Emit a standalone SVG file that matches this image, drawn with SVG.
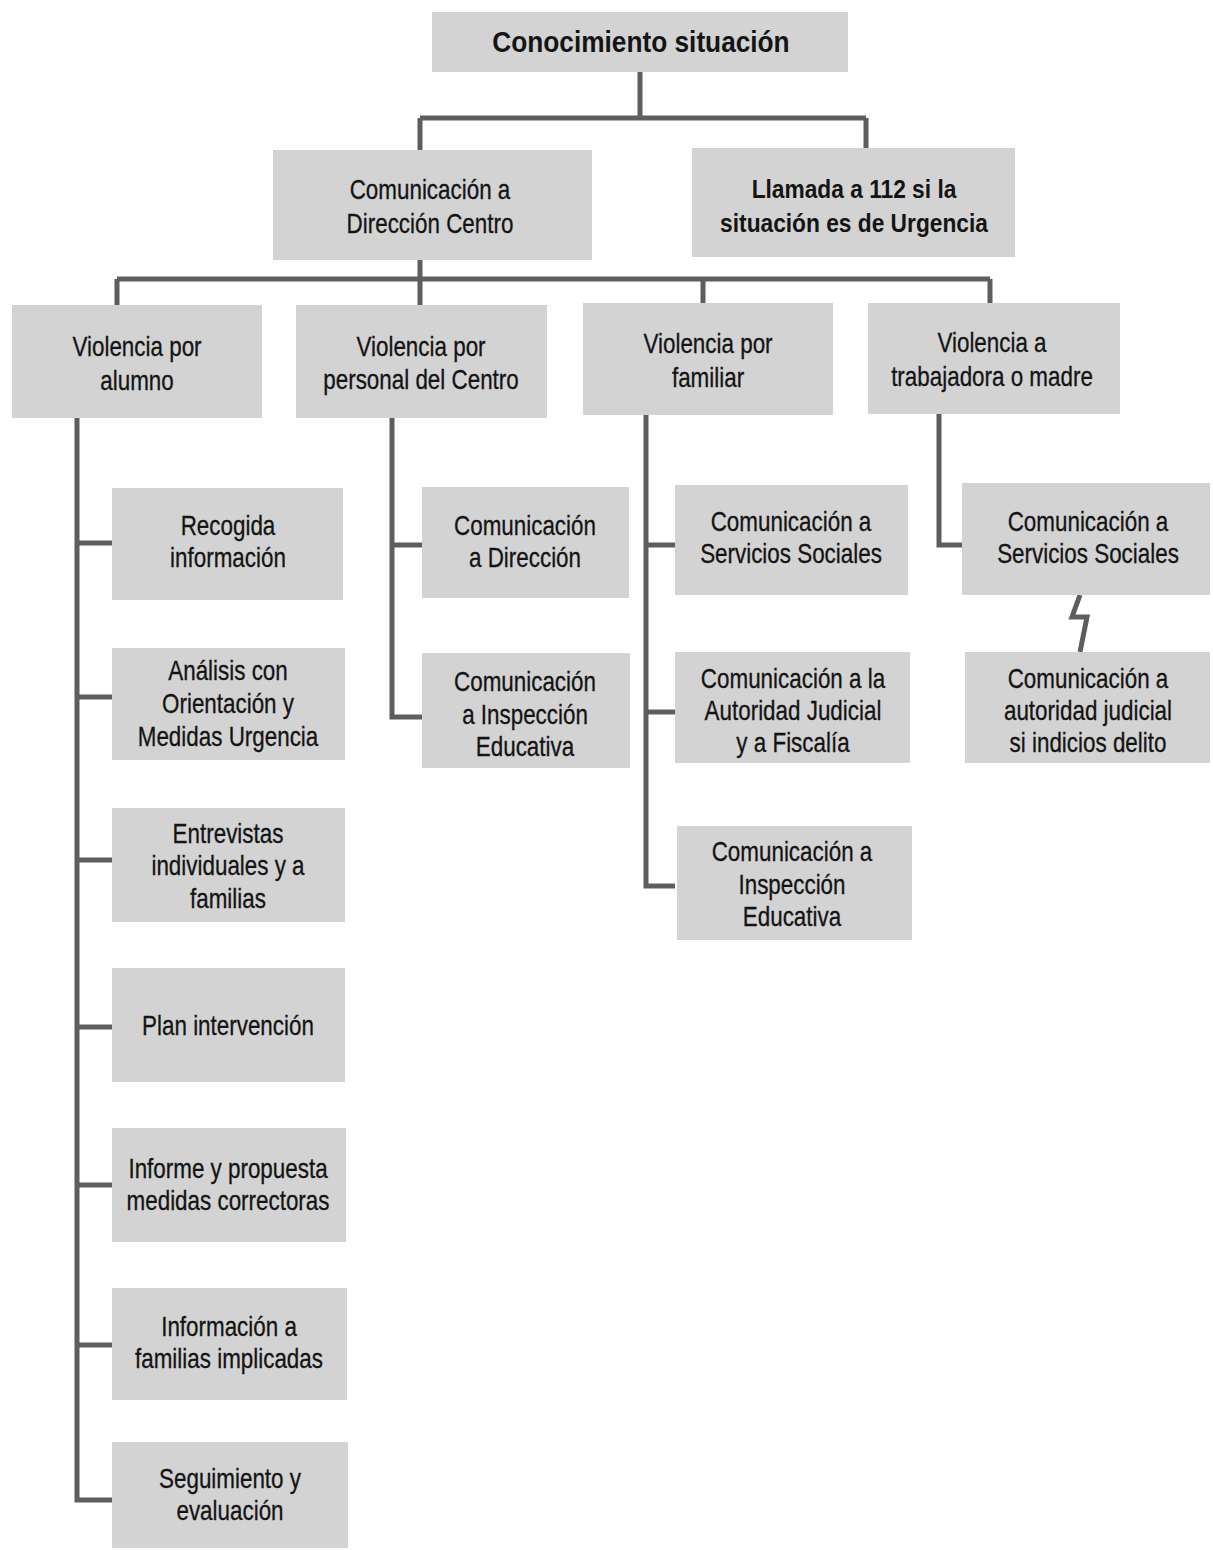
<svg xmlns="http://www.w3.org/2000/svg" width="1213" height="1550" viewBox="0 0 1213 1550">
<style>
.box{fill:#d3d3d3}
.c{stroke:#5e5e5e;stroke-width:5;fill:none;stroke-linejoin:miter}
.t{font-family:"Liberation Sans",Arial,sans-serif;font-size:27px;fill:#141414;text-anchor:middle;stroke:#141414;stroke-width:0.3px}
.b{font-weight:bold;font-size:26px;stroke-width:0}
.tt{font-weight:bold;font-size:29px;stroke-width:0}
</style>
<rect width="1213" height="1550" fill="#ffffff"/>
<g id="connectors">
<path class="c" d="M640,72 V118 M420,118 H866 M420,118 V150 M866,118 V148"/>
<path class="c" d="M420,260 V305 M117,279 H990 M117,279 V305 M703,279 V303 M990,279 V303"/>
<path class="c" d="M77,418 V1500 H112 M77,543 H112 M77,697 H112 M77,860 H112 M77,1027 H112 M77,1185 H112 M77,1345 H112"/>
<path class="c" d="M392,418 V717 H422 M392,545 H422"/>
<path class="c" d="M646,415 V886 H675 M646,545 H675 M646,712 H675"/>
<path class="c" d="M939,414 V545 H962"/>
<polyline class="c" stroke-width="4" points="1080,595 1072,617 1087,617 1080,652"/>
</g>
<g id="n-conocimiento"><rect class="box" x="432" y="12" width="416" height="60"/><text class="t tt" transform="translate(641,0) scale(0.905,1)"><tspan x="0" y="52">Conocimiento situación</tspan></text></g>
<g id="n-comunicacion-direccion-centro"><rect class="box" x="273" y="150" width="319" height="110"/><text class="t" transform="translate(430,0) scale(0.83,1)"><tspan x="0" y="199">Comunicación a</tspan><tspan x="0" y="233">Dirección Centro</tspan></text></g>
<g id="n-llamada-112"><rect class="box" x="692" y="148" width="323" height="109"/><text class="t b" transform="translate(854,0) scale(0.875,1)"><tspan x="0" y="198">Llamada a 112 si la</tspan><tspan x="0" y="232">situación es de Urgencia</tspan></text></g>
<g id="n-violencia-alumno"><rect class="box" x="12" y="305" width="250" height="113"/><text class="t" transform="translate(137,0) scale(0.83,1)"><tspan x="0" y="356">Violencia por</tspan><tspan x="0" y="390">alumno</tspan></text></g>
<g id="n-violencia-personal"><rect class="box" x="296" y="305" width="251" height="113"/><text class="t" transform="translate(421,0) scale(0.83,1)"><tspan x="0" y="356">Violencia por</tspan><tspan x="0" y="389">personal del Centro</tspan></text></g>
<g id="n-violencia-familiar"><rect class="box" x="583" y="303" width="250" height="112"/><text class="t" transform="translate(708,0) scale(0.83,1)"><tspan x="0" y="353">Violencia por</tspan><tspan x="0" y="387">familiar</tspan></text></g>
<g id="n-violencia-trabajadora"><rect class="box" x="868" y="303" width="252" height="111"/><text class="t" transform="translate(992,0) scale(0.83,1)"><tspan x="0" y="352">Violencia a</tspan><tspan x="0" y="386">trabajadora o madre</tspan></text></g>
<g id="n-recogida"><rect class="box" x="112" y="488" width="231" height="112"/><text class="t" transform="translate(228,0) scale(0.83,1)"><tspan x="0" y="535">Recogida</tspan><tspan x="0" y="567">información</tspan></text></g>
<g id="n-analisis"><rect class="box" x="112" y="648" width="233" height="112"/><text class="t" transform="translate(228,0) scale(0.83,1)"><tspan x="0" y="680">Análisis con</tspan><tspan x="0" y="713">Orientación y</tspan><tspan x="0" y="746">Medidas Urgencia</tspan></text></g>
<g id="n-entrevistas"><rect class="box" x="112" y="808" width="233" height="114"/><text class="t" transform="translate(228,0) scale(0.83,1)"><tspan x="0" y="843">Entrevistas</tspan><tspan x="0" y="875">individuales y a</tspan><tspan x="0" y="908">familias</tspan></text></g>
<g id="n-plan"><rect class="box" x="112" y="968" width="233" height="114"/><text class="t" transform="translate(228,0) scale(0.83,1)"><tspan x="0" y="1035">Plan intervención</tspan></text></g>
<g id="n-informe"><rect class="box" x="112" y="1128" width="234" height="114"/><text class="t" transform="translate(228,0) scale(0.83,1)"><tspan x="0" y="1178">Informe y propuesta</tspan><tspan x="0" y="1210">medidas correctoras</tspan></text></g>
<g id="n-informacion-familias"><rect class="box" x="112" y="1288" width="235" height="112"/><text class="t" transform="translate(229,0) scale(0.83,1)"><tspan x="0" y="1336">Información a</tspan><tspan x="0" y="1368">familias implicadas</tspan></text></g>
<g id="n-seguimiento"><rect class="box" x="112" y="1442" width="236" height="106"/><text class="t" transform="translate(230,0) scale(0.83,1)"><tspan x="0" y="1488">Seguimiento y</tspan><tspan x="0" y="1520">evaluación</tspan></text></g>
<g id="n-p-direccion"><rect class="box" x="422" y="487" width="207" height="111"/><text class="t" transform="translate(525,0) scale(0.83,1)"><tspan x="0" y="535">Comunicación</tspan><tspan x="0" y="567">a Dirección</tspan></text></g>
<g id="n-p-inspeccion"><rect class="box" x="422" y="653" width="208" height="115"/><text class="t" transform="translate(525,0) scale(0.83,1)"><tspan x="0" y="691">Comunicación</tspan><tspan x="0" y="724">a Inspección</tspan><tspan x="0" y="756">Educativa</tspan></text></g>
<g id="n-f-servicios"><rect class="box" x="675" y="485" width="233" height="110"/><text class="t" transform="translate(791,0) scale(0.83,1)"><tspan x="0" y="531">Comunicación a</tspan><tspan x="0" y="563">Servicios Sociales</tspan></text></g>
<g id="n-f-judicial"><rect class="box" x="675" y="652" width="235" height="111"/><text class="t" transform="translate(793,0) scale(0.83,1)"><tspan x="0" y="688">Comunicación a la</tspan><tspan x="0" y="720">Autoridad Judicial</tspan><tspan x="0" y="752">y a Fiscalía</tspan></text></g>
<g id="n-f-inspeccion"><rect class="box" x="677" y="826" width="235" height="114"/><text class="t" transform="translate(792,0) scale(0.83,1)"><tspan x="0" y="861">Comunicación a</tspan><tspan x="0" y="894">Inspección</tspan><tspan x="0" y="926">Educativa</tspan></text></g>
<g id="n-t-servicios"><rect class="box" x="962" y="483" width="248" height="112"/><text class="t" transform="translate(1088,0) scale(0.83,1)"><tspan x="0" y="531">Comunicación a</tspan><tspan x="0" y="563">Servicios Sociales</tspan></text></g>
<g id="n-t-judicial"><rect class="box" x="965" y="652" width="245" height="111"/><text class="t" transform="translate(1088,0) scale(0.83,1)"><tspan x="0" y="688">Comunicación a</tspan><tspan x="0" y="720">autoridad judicial</tspan><tspan x="0" y="752">si indicios delito</tspan></text></g>
</svg>
